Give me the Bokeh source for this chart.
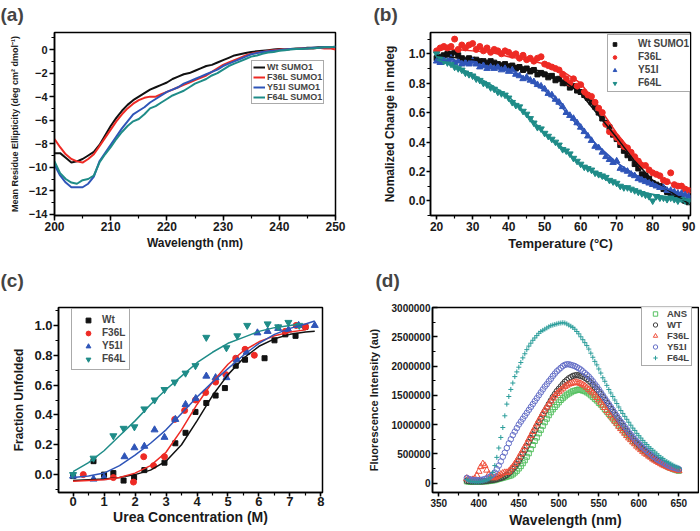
from bokeh.plotting import figure
from bokeh.layouts import column, row
from bokeh.models import (Range1d, SingleIntervalTicker, Legend, LegendItem, Title,
                          PrintfTickFormatter, BasicTickFormatter)
from bokeh.embed import file_html
from bokeh.resources import INLINE

FONT = "Liberation Sans"

# ---------------- (a) CD spectra ----------------
cd_wavelength = list(range(200, 251))
cd_wt = [-8.8, -8.8, -9.2, -9.6, -9.5, -9.3, -9.0, -8.7, -8.1, -7.3, -6.5,
         -5.8, -5.2, -4.7, -4.3, -4.0, -3.7, -3.4, -3.2, -3.0, -2.8,
         -2.5, -2.3, -2.1, -2.0, -1.8, -1.6, -1.4, -1.3, -1.1, -0.9,
         -0.7, -0.5, -0.4, -0.3, -0.2, -0.15, -0.1, -0.05, 0.0, 0.05,
         0.0, 0.05, 0.1, 0.1, 0.15, 0.15, 0.2, 0.2, 0.2, 0.2]
cd_f36l = [-7.6, -8.3, -8.9, -9.3, -9.5, -9.6, -9.3, -8.9, -8.2, -7.5, -6.8,
           -6.1, -5.5, -5.0, -4.6, -4.3, -4.1, -4.0, -4.0, -3.8, -3.6,
           -3.4, -3.2, -3.0, -2.8, -2.6, -2.4, -2.2, -1.9, -1.6, -1.3,
           -1.1, -0.9, -0.7, -0.5, -0.35, -0.25, -0.2, -0.1, -0.05, 0.0,
           0.0, 0.05, 0.05, 0.1, 0.1, 0.1, 0.15, 0.1, 0.1, 0.0]
cd_y51i = [-9.8, -10.7, -11.3, -11.7, -11.7, -11.7, -11.4, -10.8, -9.5, -8.8, -8.1,
           -7.4, -6.7, -6.1, -5.5, -5.2, -4.9, -4.5, -4.2, -3.9, -3.6,
           -3.4, -3.2, -2.9, -2.7, -2.5, -2.3, -2.1, -1.9, -1.7, -1.4,
           -1.2, -1.0, -0.8, -0.6, -0.4, -0.3, -0.2, -0.15, -0.1, -0.05,
           0.0, 0.05, 0.05, 0.1, 0.1, 0.15, 0.15, 0.2, 0.2, 0.25]
cd_f64l = [-9.5, -10.5, -11.0, -11.3, -11.4, -11.1, -11.0, -10.7, -9.6, -8.9, -8.3,
           -7.6, -7.0, -6.5, -6.1, -5.9, -5.5, -5.0, -4.8, -4.5, -4.2,
           -3.9, -3.7, -3.5, -3.2, -2.9, -2.7, -2.5, -2.2, -2.0, -1.7,
           -1.4, -1.2, -1.0, -0.8, -0.6, -0.5, -0.35, -0.25, -0.2, -0.1,
           -0.05, 0.0, 0.05, 0.05, 0.1, 0.1, 0.15, 0.2, 0.2, 0.25]

# ---------------- (b) thermal denaturation ----------------
temp = list(range(20, 91))
tm_wt = [0.97, 0.98, 0.99, 1.0, 1.0, 1.01, 0.99, 0.97, 0.96, 0.97,
         0.96, 0.96, 0.95, 0.95, 0.94, 0.95, 0.94, 0.93, 0.92, 0.93,
         0.91, 0.92, 0.9, 0.91, 0.89, 0.9, 0.88, 0.89, 0.86, 0.87,
         0.86, 0.84, 0.85, 0.82, 0.83, 0.8, 0.8, 0.77, 0.78, 0.75,
         0.74, 0.72, 0.7, 0.67, 0.64, 0.6, 0.56, 0.53, 0.5, 0.45,
         0.42, 0.38, 0.34, 0.31, 0.29, 0.25, 0.22, 0.18, 0.17, 0.15,
         0.12, 0.11, 0.1, 0.08, 0.06, 0.04, 0.03, 0.02, 0.02, 0.0, -0.01]
tm_f36l = [1.02, 1.04, 1.05, 1.04, 1.05, 1.1, 1.03, 1.06, 1.04, 1.06,
           1.07, 1.03, 1.05, 1.02, 1.04, 1.01, 1.03, 1.02, 1.0, 1.02,
           1.01, 0.99, 1.0, 0.97, 0.99, 0.96, 0.97, 0.95, 0.97, 0.98,
           0.93, 0.92, 0.91, 0.9, 0.89, 0.86, 0.83, 0.8, 0.83, 0.78,
           0.79, 0.74, 0.72, 0.71, 0.67, 0.63, 0.6, 0.52, 0.47, 0.46,
           0.43, 0.4, 0.37, 0.36, 0.33, 0.3, 0.27, 0.24, 0.24, 0.21,
           0.19, 0.18, 0.17, 0.14, 0.13, 0.19, 0.11, 0.1, 0.1, 0.08, 0.07]
tm_y51i = [0.95, 0.94, 0.96, 0.95, 0.97, 0.94, 0.95, 0.93, 0.94, 0.93,
           0.95, 0.93, 0.91, 0.92, 0.9, 0.91, 0.9, 0.91, 0.89, 0.9,
           0.88, 0.89, 0.86, 0.85, 0.83, 0.84, 0.82, 0.81, 0.79, 0.78,
           0.76, 0.73, 0.72, 0.69, 0.67, 0.64, 0.6, 0.58, 0.56, 0.53,
           0.5, 0.47, 0.44, 0.41, 0.37, 0.36, 0.33, 0.3, 0.28, 0.26,
           0.27, 0.22, 0.21, 0.2, 0.18, 0.17, 0.15, 0.14, 0.13, 0.12,
           0.11, 0.1, 0.09, 0.09, 0.07, 0.07, 0.06, 0.05, 0.05, 0.04, 0.03]
tm_f64l = [1.0, 0.97, 0.95, 0.94, 0.93, 0.91, 0.9, 0.89, 0.87, 0.86,
           0.85, 0.83, 0.82, 0.8, 0.79, 0.77, 0.76, 0.74, 0.73, 0.72,
           0.7, 0.67, 0.65, 0.64, 0.61, 0.59, 0.56, 0.53, 0.5, 0.49,
           0.46, 0.44, 0.42, 0.4, 0.38, 0.35, 0.34, 0.32, 0.29, 0.27,
           0.25, 0.23, 0.22, 0.21, 0.19, 0.18, 0.17, 0.16, 0.14, 0.13,
           0.12, 0.1, 0.09, 0.09, 0.08, 0.07, 0.06, 0.05, 0.04, 0.03,
           0.0, 0.03, 0.02, 0.02, 0.01, 0.02, 0.01, 0.0, 0.01, 0.0, 0.0]
fit_temp = [20, 25, 30, 35, 40, 45, 50, 55, 60, 65, 70, 75, 80, 85, 90]
fit_tm_wt = [0.99, 0.975, 0.96, 0.945, 0.93, 0.905, 0.875, 0.82, 0.73, 0.58, 0.43, 0.27, 0.14, 0.06, -0.02]
fit_tm_f36l = [1.03, 1.03, 1.02, 1.01, 0.98, 0.96, 0.93, 0.88, 0.8, 0.64, 0.46, 0.31, 0.19, 0.12, 0.07]
fit_tm_y51i = [0.96, 0.95, 0.93, 0.91, 0.88, 0.83, 0.75, 0.63, 0.49, 0.37, 0.26, 0.18, 0.12, 0.07, 0.035]
fit_tm_f64l = [0.96, 0.92, 0.86, 0.79, 0.71, 0.59, 0.46, 0.36, 0.25, 0.17, 0.11, 0.07, 0.045, 0.02, 0.0]

# ---------------- (c) urea denaturation ----------------
urea_wt = [0.0, 0.66, 1.0, 1.3, 1.63, 1.97, 2.3, 2.95, 3.3, 3.63, 3.95, 4.3, 4.6, 4.9,
           5.25, 5.55, 6.18, 6.5, 6.85, 7.18, 7.5]
fu_wt = [-0.01, 0.09, 0.0, 0.01, -0.04, -0.02, 0.03, 0.08, 0.21, 0.28, 0.42, 0.48, 0.53, 0.58,
         0.73, 0.77, 0.78, 0.9, 0.94, 0.93, 0.99]
urea_f36l = [0.33, 1.3, 1.95, 2.28, 2.6, 2.95, 3.28, 3.6, 3.95, 4.28, 4.6, 4.93, 5.25, 5.55,
             5.85, 6.85, 7.2, 7.5]
fu_f36l = [0.0, -0.02, -0.05, 0.12, 0.06, 0.12, 0.37, 0.43, 0.5, 0.55, 0.62, 0.67, 0.78, 0.84,
           0.8, 0.96, 1.0, 0.99]
urea_y51i = [0.0, 0.66, 1.0, 1.66, 1.98, 2.3, 2.63, 2.95, 3.3, 3.63, 3.96, 4.3, 4.6, 4.95,
             5.28, 5.6, 5.95, 6.28, 6.62, 6.95, 7.28, 7.8]
fu_y51i = [-0.01, -0.03, -0.02, 0.12, 0.18, 0.19, 0.3, 0.25, 0.37, 0.47, 0.51, 0.66, 0.65, 0.65,
           0.77, 0.82, 0.95, 0.96, 0.98, 0.97, 1.0, 1.0]
urea_f64l = [0.0, 0.66, 1.3, 1.63, 1.98, 2.3, 2.63, 2.95, 3.28, 3.63, 3.95, 4.3, 4.95, 5.3,
             5.62, 6.28, 6.62, 6.95, 7.3]
fu_f64l = [0.0, 0.11, 0.26, 0.31, 0.32, 0.44, 0.5, 0.57, 0.62, 0.68, 0.73, 0.92, 0.85, 0.93,
           1.0, 1.01, 0.99, 1.02, 1.0]
fit_urea_a = [0, 0.5, 1, 1.5, 2, 2.5, 3, 3.5, 4, 4.5, 5, 5.5, 6, 6.5, 7, 7.5, 7.8]
fit_urea_b = [0, 0.5, 1, 1.5, 2, 2.5, 3, 3.5, 4, 4.5, 5, 5.5, 6, 6.5, 7, 7.5]
fit_urea_c = [0, 0.5, 1, 1.5, 2, 2.5, 3, 3.5, 4, 4.5, 5, 5.5, 6, 6.5, 7, 7.3]
fit_fu_wt = [-0.04, -0.035, -0.03, -0.02, 0.0, 0.03, 0.09, 0.2, 0.36, 0.53, 0.67, 0.78, 0.86, 0.91, 0.94, 0.955, 0.96]
fit_fu_f36l = [-0.045, -0.04, -0.035, -0.02, 0.01, 0.06, 0.15, 0.3, 0.47, 0.62, 0.74, 0.83, 0.89, 0.93, 0.955, 0.97]
fit_fu_y51i = [-0.02, -0.01, 0.01, 0.06, 0.13, 0.21, 0.3, 0.41, 0.52, 0.62, 0.71, 0.8, 0.88, 0.94, 0.98, 1.01, 1.03]
fit_fu_f64l = [0.02, 0.08, 0.16, 0.26, 0.36, 0.47, 0.57, 0.66, 0.75, 0.82, 0.88, 0.92, 0.96, 0.985, 1.0, 1.01]

# ---------------- (d) ANS fluorescence (millions, 385-650 nm every 2.5 nm) ----------------
fl_ans = [0.03, 0.025, 0.02, 0.02, 0.02, 0.02, 0.02, 0.025, 0.03, 0.03,
          0.03, 0.035, 0.04, 0.045, 0.05, 0.06, 0.07, 0.08, 0.09, 0.1,
          0.11, 0.12, 0.13, 0.15, 0.18, 0.21, 0.25, 0.29, 0.34, 0.39,
          0.45, 0.51, 0.58, 0.65, 0.72, 0.78, 0.85, 0.91, 0.98, 1.04,
          1.1, 1.16, 1.21, 1.26, 1.3, 1.34, 1.38, 1.42, 1.45, 1.48,
          1.51, 1.53, 1.55, 1.57, 1.58, 1.59, 1.6, 1.59, 1.58, 1.57,
          1.55, 1.53, 1.5, 1.47, 1.44, 1.41, 1.37, 1.34, 1.3, 1.26,
          1.22, 1.18, 1.14, 1.1, 1.06, 1.02, 0.98, 0.95, 0.91, 0.87,
          0.83, 0.8, 0.76, 0.72, 0.69, 0.66, 0.63, 0.6, 0.57, 0.54,
          0.51, 0.48, 0.46, 0.43, 0.41, 0.39, 0.37, 0.35, 0.33, 0.31,
          0.29, 0.27, 0.26, 0.24, 0.23, 0.22, 0.21]
fl_wt = [0.04, 0.035, 0.03, 0.03, 0.03, 0.03, 0.03, 0.03, 0.03, 0.035,
         0.04, 0.045, 0.05, 0.055, 0.06, 0.07, 0.08, 0.09, 0.1, 0.12,
         0.14, 0.17, 0.2, 0.24, 0.28, 0.33, 0.38, 0.44, 0.5, 0.56,
         0.63, 0.7, 0.77, 0.83, 0.9, 0.97, 1.04, 1.1, 1.17, 1.23,
         1.29, 1.35, 1.41, 1.47, 1.52, 1.57, 1.61, 1.65, 1.69, 1.73,
         1.76, 1.79, 1.81, 1.83, 1.84, 1.845, 1.84, 1.83, 1.82, 1.8,
         1.78, 1.75, 1.72, 1.68, 1.64, 1.6, 1.56, 1.52, 1.47, 1.42,
         1.37, 1.32, 1.27, 1.22, 1.17, 1.12, 1.07, 1.03, 0.98, 0.93,
         0.89, 0.84, 0.8, 0.76, 0.72, 0.68, 0.65, 0.61, 0.58, 0.55,
         0.52, 0.49, 0.46, 0.43, 0.41, 0.39, 0.37, 0.35, 0.33, 0.315,
         0.3, 0.285, 0.27, 0.26, 0.25, 0.24, 0.23]
fl_f36l = [0.08, 0.06, 0.05, 0.06, 0.08, 0.13, 0.2, 0.28, 0.33, 0.3,
           0.22, 0.15, 0.1, 0.09, 0.09, 0.11, 0.13, 0.15, 0.17, 0.18,
           0.18, 0.2, 0.24, 0.28, 0.33, 0.38, 0.44, 0.5, 0.56, 0.62,
           0.68, 0.75, 0.81, 0.88, 0.94, 1.01, 1.07, 1.13, 1.19, 1.25,
           1.3, 1.35, 1.4, 1.45, 1.49, 1.53, 1.56, 1.59, 1.62, 1.65,
           1.67, 1.69, 1.7, 1.71, 1.72, 1.72, 1.71, 1.7, 1.68, 1.66,
           1.63, 1.6, 1.57, 1.54, 1.5, 1.46, 1.42, 1.38, 1.33, 1.29,
           1.24, 1.2, 1.15, 1.11, 1.06, 1.02, 0.97, 0.93, 0.89, 0.85,
           0.81, 0.77, 0.74, 0.7, 0.67, 0.63, 0.6, 0.57, 0.54, 0.51,
           0.49, 0.46, 0.44, 0.41, 0.39, 0.37, 0.35, 0.33, 0.31, 0.295,
           0.28, 0.265, 0.25, 0.24, 0.23, 0.22, 0.21]
fl_y51i = [0.09, 0.07, 0.06, 0.055, 0.05, 0.05, 0.05, 0.055, 0.06, 0.07,
           0.08, 0.1, 0.12, 0.15, 0.18, 0.24, 0.3, 0.37, 0.45, 0.52,
           0.6, 0.68, 0.75, 0.82, 0.88, 0.94, 1.0, 1.05, 1.1, 1.15,
           1.2, 1.25, 1.3, 1.35, 1.4, 1.45, 1.5, 1.55, 1.6, 1.65,
           1.69, 1.74, 1.78, 1.83, 1.87, 1.91, 1.94, 1.97, 2.0, 2.02,
           2.03, 2.03, 2.02, 2.01, 2.0, 1.98, 1.96, 1.94, 1.91, 1.88,
           1.85, 1.82, 1.78, 1.74, 1.69, 1.65, 1.6, 1.55, 1.5, 1.45,
           1.4, 1.35, 1.3, 1.25, 1.2, 1.15, 1.1, 1.05, 1.01, 0.96,
           0.92, 0.87, 0.83, 0.79, 0.75, 0.71, 0.68, 0.64, 0.61, 0.58,
           0.55, 0.52, 0.49, 0.46, 0.44, 0.41, 0.39, 0.37, 0.35, 0.33,
           0.31, 0.295, 0.28, 0.27, 0.26, 0.25, 0.24]
fl_f64l = [0.06, 0.04, 0.03, 0.025, 0.02, 0.02, 0.02, 0.025, 0.03, 0.04,
           0.05, 0.07, 0.1, 0.18, 0.3, 0.44, 0.6, 0.78, 0.95, 1.15,
           1.35, 1.48, 1.6, 1.71, 1.82, 1.9, 1.98, 2.06, 2.14, 2.21,
           2.28, 2.34, 2.39, 2.44, 2.48, 2.52, 2.56, 2.59, 2.61, 2.63,
           2.65, 2.67, 2.69, 2.7, 2.71, 2.72, 2.73, 2.735, 2.74, 2.735,
           2.72, 2.7, 2.68, 2.66, 2.63, 2.59, 2.55, 2.5, 2.45, 2.4,
           2.35, 2.29, 2.22, 2.15, 2.08, 2.02, 1.95, 1.88, 1.8, 1.74,
           1.67, 1.6, 1.54, 1.48, 1.42, 1.36, 1.3, 1.24, 1.19, 1.14,
           1.09, 1.04, 0.99, 0.94, 0.9, 0.85, 0.81, 0.77, 0.73, 0.69,
           0.66, 0.62, 0.59, 0.56, 0.53, 0.5, 0.47, 0.44, 0.42, 0.39,
           0.37, 0.35, 0.33, 0.31, 0.29, 0.275, 0.26]
fl_start_nm = 385
fl_step_nm = 2.5
fl_scale = 1000000
fl_wavelength = [fl_start_nm + fl_step_nm * i for i in range(len(fl_ans))]

BLACK = "#111111"
RED = "#ee2a24"
BLUE = "#2f55b8"
TEAL = "#1f8c88"


def base_fig(width, height, xr, yr, ml, mr, mt, mb, letter, title_offset, gap):
    p = figure(width=width, height=height, x_range=Range1d(*xr), y_range=Range1d(*yr),
               output_backend="svg", toolbar_location=None, title=None,
               min_border_left=ml, min_border_right=mr, min_border_top=mt, min_border_bottom=mb)
    p.grid.visible = False
    p.outline_line_color = "black"
    p.outline_line_width = 1.5
    # invisible spacer between the frame and the panel letter
    p.add_layout(Title(text=" ", text_font_size="1px", standoff=gap), "above")
    p.add_layout(Title(text=letter, text_font=FONT, text_font_size="19px",
                       text_font_style="bold", offset=title_offset, standoff=0), "above")
    return p


def style_axis(ax, tick_font, label_font, label_standoff, major_standoff,
               tick_out=5, tick_in=0, minor_out=3, minor_in=0):
    ax.axis_line_width = 1.5
    ax.axis_line_color = "black"
    ax.major_tick_line_width = 1.5
    ax.minor_tick_line_width = 1.2
    ax.major_tick_out = tick_out
    ax.major_tick_in = tick_in
    ax.minor_tick_out = minor_out
    ax.minor_tick_in = minor_in
    ax.major_label_text_font = FONT
    ax.major_label_text_font_size = tick_font
    ax.major_label_text_font_style = "bold"
    ax.major_label_text_color = "#1a1a1a"
    ax.axis_label_text_font = FONT
    ax.axis_label_text_font_size = label_font
    ax.axis_label_text_font_style = "bold"
    ax.axis_label_text_color = "#1a1a1a"
    ax.axis_label_standoff = label_standoff
    ax.major_label_standoff = major_standoff


def make_legend(items, loc, font_size, gw, gh, lh, standoff, padding):
    return Legend(items=items, location=loc, label_text_font=FONT,
                  label_text_font_size=font_size, label_text_font_style="bold",
                  glyph_width=gw, glyph_height=gh, label_height=lh,
                  label_standoff=standoff, padding=padding, spacing=0, margin=0,
                  border_line_color="#555555", border_line_width=1,
                  background_fill_color="white")


# ---------- panel (a) ----------
pa = base_fig(350, 265, (200, 250), (-14.1, 1.45), 54, 15, 32, 47, "(a)", -54, 5)
pa.xaxis.axis_label = "Wavelength (nm)"
pa.yaxis.axis_label = "Mean Residue Ellipticity (deg cm\u00b2 dmol\u207b\u00b9)"
pa.xaxis.ticker = SingleIntervalTicker(interval=10, num_minor_ticks=2)
pa.yaxis.ticker = SingleIntervalTicker(interval=2, num_minor_ticks=2)
style_axis(pa.xaxis[0], "12px", "12px", 2, 1)
style_axis(pa.yaxis[0], "11px", "9px", 6, 2)
ra = []
for ys, col in ((cd_wt, BLACK), (cd_f36l, RED), (cd_y51i, BLUE), (cd_f64l, TEAL)):
    ra.append(pa.line(cd_wavelength, ys, line_color=col, line_width=2))
leg_a = make_legend([LegendItem(label="Wt SUMO1", renderers=[ra[0]]),
                     LegendItem(label="F36L SUMO1", renderers=[ra[1]]),
                     LegendItem(label="Y51I SUMO1", renderers=[ra[2]]),
                     LegendItem(label="F64L SUMO1", renderers=[ra[3]])],
                    (197, 111), "9px", 12, 10, 10, 2, 1)
pa.add_layout(leg_a)

# ---------- panel (b) ----------
pb = base_fig(349, 265, (18.3, 90.5), (-0.1, 1.145), 80, 9, 32, 50, "(b)", -57, 5)
pb.xaxis.axis_label = "Temperature (\u00b0C)"
pb.yaxis.axis_label = "Nomalized Change in mdeg"
pb.xaxis.ticker = SingleIntervalTicker(interval=10, num_minor_ticks=2)
pb.yaxis.ticker = SingleIntervalTicker(interval=0.2, num_minor_ticks=2)
pb.yaxis.formatter = PrintfTickFormatter(format="%.1f")
style_axis(pb.xaxis[0], "12px", "13px", 2, 2, tick_out=4)
style_axis(pb.yaxis[0], "12px", "12px", 9, 1, tick_out=4)
sb = []
sb.append(pb.scatter(temp, tm_wt, marker="square", size=5, color=BLACK))
sb.append(pb.scatter(temp, tm_f36l, marker="circle", size=6, color=RED))
sb.append(pb.scatter(temp, tm_y51i, marker="triangle", size=6.5, color=BLUE))
sb.append(pb.scatter(temp, tm_f64l, marker="inverted_triangle", size=6.5, color=TEAL))
for ys, col in ((fit_tm_wt, BLACK), (fit_tm_f36l, RED), (fit_tm_y51i, BLUE), (fit_tm_f64l, TEAL)):
    pb.line(fit_temp, ys, line_color=col, line_width=1.5)
leg_b = make_legend([LegendItem(label="Wt SUMO1", renderers=[sb[0]]),
                     LegendItem(label="F36L", renderers=[sb[1]]),
                     LegendItem(label="Y51I", renderers=[sb[2]]),
                     LegendItem(label="F64L", renderers=[sb[3]])],
                    (177, 123), "10px", 9, 12, 13, 19, 2)
pb.add_layout(leg_b)

# ---------- panel (c) ----------
pc = base_fig(350, 265, (-0.47, 8.05), (-0.12, 1.12), 58, 28, 42, 35, "(c)", -58, 14)
pc.xaxis.axis_label = "Urea Concentration (M)"
pc.yaxis.axis_label = "Fraction Unfolded"
pc.xaxis.ticker = SingleIntervalTicker(interval=1, num_minor_ticks=2)
pc.yaxis.ticker = SingleIntervalTicker(interval=0.2, num_minor_ticks=2)
pc.yaxis.formatter = PrintfTickFormatter(format="%.1f")
style_axis(pc.xaxis[0], "13px", "14px", 0, 0, tick_out=4)
style_axis(pc.yaxis[0], "13px", "12px", 5, 1, tick_out=5)
sc = []
sc.append(pc.scatter(urea_wt, fu_wt, marker="square", size=5, color=BLACK))
sc.append(pc.scatter(urea_f36l, fu_f36l, marker="circle", size=6, color=RED))
sc.append(pc.scatter(urea_y51i, fu_y51i, marker="triangle", size=7, color=BLUE))
sc.append(pc.scatter(urea_f64l, fu_f64l, marker="inverted_triangle", size=7, color=TEAL))
pc.line(fit_urea_a, fit_fu_wt, line_color=BLACK, line_width=1.5)
pc.line(fit_urea_b, fit_fu_f36l, line_color=RED, line_width=1.5)
pc.line(fit_urea_a, fit_fu_y51i, line_color=BLUE, line_width=1.5)
pc.line(fit_urea_c, fit_fu_f64l, line_color=TEAL, line_width=1.5)
leg_c = make_legend([LegendItem(label="Wt", renderers=[sc[0]]),
                     LegendItem(label="F36L", renderers=[sc[1]]),
                     LegendItem(label="Y51I", renderers=[sc[2]]),
                     LegendItem(label="F64L", renderers=[sc[3]])],
                    (13, 122), "10px", 24, 12, 13, 2, 4)
pc.add_layout(leg_c)

# ---------- panel (d) ----------
pd_ = base_fig(349, 265, (342.1, 674.6), (-160000, 3000000), 82, 1, 42, 38, "(d)", -57, 14)
pd_.xaxis.axis_label = "Wavelength (nm)"
pd_.yaxis.axis_label = "Fluorescence Intensity (au)"
pd_.xaxis.ticker = SingleIntervalTicker(interval=50, num_minor_ticks=2)
pd_.yaxis.ticker = SingleIntervalTicker(interval=500000, num_minor_ticks=2)
pd_.yaxis.formatter = BasicTickFormatter(use_scientific=False)
style_axis(pd_.xaxis[0], "10px", "14px", 2, 2, tick_out=4, minor_out=3)
style_axis(pd_.yaxis[0], "10px", "11px", 9, 2, tick_out=0, tick_in=5, minor_out=0, minor_in=3)


def scaled(vals):
    return [v * fl_scale for v in vals]


sd = []
sd.append(pd_.scatter(fl_wavelength, scaled(fl_ans), marker="square", size=5,
                      fill_alpha=0, line_color="#55c060", line_width=1))
sd.append(pd_.scatter(fl_wavelength, scaled(fl_wt), marker="circle", size=5.5,
                      fill_alpha=0, line_color="#404040", line_width=1))
sd.append(pd_.scatter(fl_wavelength, scaled(fl_f36l), marker="triangle", size=6.5,
                      fill_alpha=0, line_color="#f0503c", line_width=1))
sd.append(pd_.scatter(fl_wavelength, scaled(fl_y51i), marker="circle", size=5.5,
                      fill_alpha=0, line_color="#6670c8", line_width=1))
sd.append(pd_.scatter(fl_wavelength, scaled(fl_f64l), marker="cross", size=5,
                      line_color="#2a9d9a", line_width=1))
leg_d = make_legend([LegendItem(label="ANS", renderers=[sd[0]]),
                     LegendItem(label="WT", renderers=[sd[1]]),
                     LegendItem(label="F36L", renderers=[sd[2]]),
                     LegendItem(label="Y51I", renderers=[sd[3]]),
                     LegendItem(label="F64L", renderers=[sd[4]])],
                    (209, 126), "9.5px", 22, 11, 11, 1, 2)
pd_.add_layout(leg_d)

layout = column(row(pa, pb, spacing=0), row(pc, pd_, spacing=0), spacing=0)
open("out.html", "w").write(file_html(layout, INLINE))
